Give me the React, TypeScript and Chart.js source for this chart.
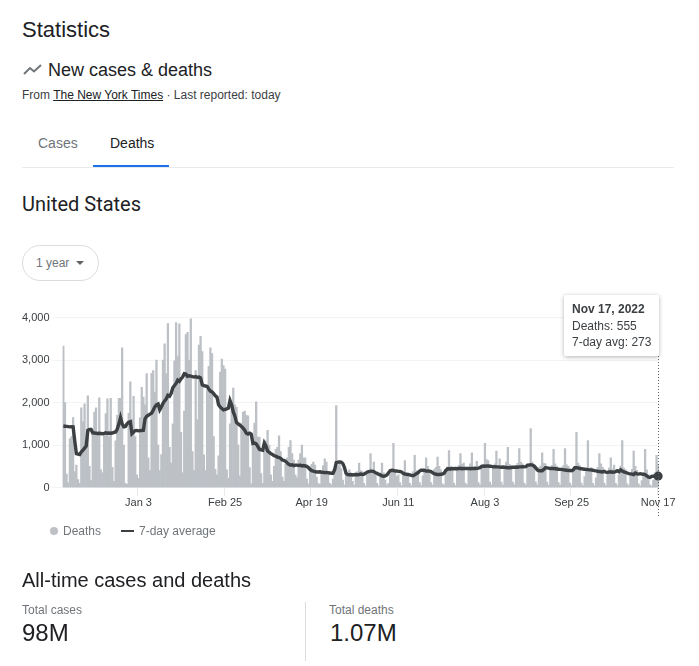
import React, { useEffect, useRef } from "react";
import { Chart, registerables } from "chart.js";

Chart.register(...registerables);

const deaths = [
  3330,2000,320,120,1150,1200,1650,380,530,190,
  100,1880,1550,1970,1100,2160,500,170,1300,1780,
  1880,1300,2110,420,350,1300,1740,2090,1200,2100,
  480,150,1100,1700,2100,2100,3290,1000,100,80,
  1750,2490,1600,2150,1200,300,220,1650,2360,2130,
  1950,2680,700,400,2690,2750,2250,3000,1000,400,
  780,3000,3380,2680,3860,950,580,1500,2980,3880,
  3080,3850,1300,350,1800,3600,3650,3000,3970,850,
  400,2750,1600,3350,3560,3200,770,400,2300,2850,
  3290,3150,1200,430,300,750,2720,3020,2870,2790,
  420,220,1500,1900,2340,1950,1890,1000,280,1520,
  1780,1800,1700,1690,470,90,1000,1520,2020,1190,
  1190,330,100,1000,1100,1350,1000,300,150,500,
  900,950,1220,850,250,150,550,700,950,1110,
  800,650,300,240,650,800,1000,700,700,200,
  90,500,550,600,530,250,100,80,400,520,
  680,600,300,100,70,200,380,1930,500,620,
  450,180,60,300,330,420,320,150,60,350,
  380,580,400,380,100,40,300,400,800,400,
  600,300,100,40,350,580,350,180,60,100,
  320,420,1040,400,260,300,120,50,340,640,
  300,290,100,50,380,760,400,330,120,50,
  280,450,700,500,420,120,60,430,480,720,
  500,420,90,60,420,490,870,500,470,110,
  50,450,520,800,550,580,110,70,420,560,
  820,440,500,620,120,70,450,530,1040,660,
  640,130,70,470,560,860,480,680,130,60,
  500,600,950,550,520,130,70,500,570,920,
  600,560,110,60,480,560,1390,600,520,140,
  70,470,510,820,570,560,130,60,440,520,
  900,560,500,120,60,460,520,920,540,500,
  110,50,430,500,1300,580,520,110,50,260,
  400,1110,430,470,100,50,230,480,800,560,
  480,110,50,340,460,700,440,530,100,50,
  300,510,1110,460,420,90,50,290,430,860,
  500,410,90,40,170,350,900,420,300,70,
  40,180,350,760,555,
];

const sevenDayAvg = [
  1450,1445,1440,1435,1430,1432,1430,1100,800,790,
  780,840,880,930,980,1350,1370,1370,1290,1285,
  1280,1275,1280,1275,1270,1275,1290,1280,1285,1280,
  1285,1300,1310,1380,1500,1650,1500,1430,1440,1500,
  1540,1550,1270,1310,1340,1345,1335,1340,1345,1350,
  1620,1680,1700,1730,1750,1820,1900,1950,1970,1830,
  1900,1980,2040,2090,2170,2150,2220,2350,2400,2450,
  2530,2500,2560,2600,2680,2670,2620,2630,2620,2610,
  2600,2610,2590,2600,2580,2420,2400,2390,2380,2320,
  2270,2250,2210,2160,2130,1950,1900,1860,1830,1840,
  1850,1870,2050,1950,1780,1680,1530,1500,1470,1440,
  1400,1350,1280,1260,1280,1260,1040,1050,1030,970,
  900,890,880,1050,980,860,830,800,780,750,
  740,720,710,690,650,640,620,580,550,530,
  540,520,530,530,520,530,510,520,510,500,
  470,430,400,390,380,370,370,375,360,365,
  350,360,350,345,340,340,420,590,600,605,
  600,570,480,340,310,305,310,300,305,310,
  305,310,320,310,320,340,370,380,390,390,
  380,350,340,310,300,280,270,280,300,350,
  400,410,405,390,395,385,380,370,340,320,
  315,310,300,290,280,300,330,350,390,410,
  410,405,390,395,390,380,350,330,315,310,
  310,315,320,340,400,440,445,440,450,445,
  450,445,450,455,445,450,450,455,450,445,
  450,455,450,455,460,470,500,510,505,510,
  510,505,500,490,495,490,490,485,480,485,
  480,475,470,470,475,480,480,485,480,490,
  490,495,490,495,530,530,540,530,510,470,
  420,400,400,400,430,470,465,460,450,455,
  450,445,440,435,430,430,420,415,410,405,
  405,400,420,470,470,465,450,445,440,435,
  430,425,420,420,410,400,395,385,380,375,
  370,385,365,360,370,375,365,370,380,400,
  375,420,390,370,360,345,330,325,320,310,
  345,325,320,330,320,315,310,280,250,240,
  265,270,275,280,273,
];

const tickLabels: Record<number, string> = {
  46: "Jan 3",
  99: "Feb 25",
  152: "Apr 19",
  205: "Jun 11",
  258: "Aug 3",
  311: "Sep 25",
  364: "Nov 17",
};
const categories = deaths.map((_, i) => tickLabels[i] ?? "");
const tooltipDate = "Nov 17, 2022";

const FONT = "'Liberation Sans', Arial, sans-serif";
const HEAD = "Roboto, Arial, sans-serif";
const DARK = "#3c4043";
const GREY = "#70757a";
const BAR = "#bdc1c6";
const GRID = "#f1f3f4";

const hoverLine = {
  id: "hoverLine",
  afterDraw(chart: any) {
    const x = chart.scales.x.getPixelForValue(deaths.length - 1);
    const ctx = chart.ctx;
    ctx.save();
    ctx.strokeStyle = "#5f6368";
    ctx.lineWidth = 1;
    ctx.setLineDash([1, 2]);
    ctx.beginPath();
    ctx.moveTo(Math.round(x) + 0.5, 56);
    ctx.lineTo(Math.round(x) + 0.5, 216);
    ctx.stroke();
    ctx.restore();
  },
};

function T({ x, y, size, color, children, weight, font }: any) {
  return (
    <div
      style={{
        position: "absolute",
        left: x,
        top: y,
        fontSize: size,
        fontFamily: font ?? FONT,
        lineHeight: "20px",
        height: 20,
        color,
        fontWeight: weight ?? 400,
        whiteSpace: "nowrap",
      }}
    >
      {children}
    </div>
  );
}

export default function App() {
  const ref = useRef<HTMLCanvasElement>(null);
  useEffect(() => {
    const chart = new Chart(ref.current!, {
      type: "bar",
      data: {
        labels: categories,
        datasets: [
          {
            type: "line",
            label: "7-day average",
            data: sevenDayAvg,
            borderColor: DARK,
            backgroundColor: DARK,
            borderWidth: 3.4,
            tension: 0,
            clip: false,
            pointRadius: (c: any) => (c.dataIndex === sevenDayAvg.length - 1 ? 4.5 : 0),
            pointBackgroundColor: DARK,
            pointBorderWidth: 0,
            order: 0,
          },
          {
            type: "bar",
            label: "Deaths",
            data: deaths,
            backgroundColor: BAR,
            barPercentage: 1,
            categoryPercentage: 1,
            order: 1,
          },
        ],
      } as any,
      options: {
        animation: false,
        responsive: false,
        maintainAspectRatio: false,
        layout: { padding: { top: 17.5, right: 40, left: 0, bottom: 0 } },
        plugins: { legend: { display: false }, tooltip: { enabled: false } },
        scales: {
          x: {
            offset: true,
            border: { display: false },
            grid: {
              drawOnChartArea: false,
              drawTicks: true,
              tickLength: 8,
              tickColor: (c: any) => (tickLabels[c.index] ? "#e8eaed" : "transparent"),
            } as any,
            ticks: {
              autoSkip: false,
              maxRotation: 0,
              minRotation: 0,
              padding: 1,
              color: DARK,
              font: { family: FONT, size: 11 },
              callback: (_: any, i: number) => tickLabels[i] ?? "",
            },
            afterFit: (s: any) => {
              s.height = 42.3;
            },
          },
          y: {
            min: 0,
            max: 4000,
            border: { display: false },
            grid: { color: GRID, tickColor: GRID, tickLength: 10 },
            ticks: {
              stepSize: 1000,
              padding: 3,
              color: DARK,
              font: { family: FONT, size: 11 },
              callback: (v: any) => Number(v).toLocaleString("en-US"),
            },
            afterFit: (s: any) => {
              s.width = 62.5;
            },
          },
        },
      } as any,
      plugins: [hoverLine],
    });
    return () => chart.destroy();
  }, []);

  return (
    <div style={{ position: "absolute", left: 0, top: 0, width: 699, height: 666, background: "#fff", fontFamily: FONT, overflow: "hidden" }}>
      <T x={22} y={20} size={22} color="#202124">Statistics</T>
      <svg style={{ position: "absolute", left: 22, top: 62 }} width={20} height={16}>
        <polyline points="2,12 8,6 12,9.5 19,3" fill="none" stroke={GREY} strokeWidth={2} />
      </svg>
      <T x={48} y={60} size={18} color="#202124">New cases &amp; deaths</T>
      <T x={22} y={85} size={12} color={DARK}>
        From <span style={{ textDecoration: "underline", color: "#202124" }}>The New York Times</span> · Last reported: today
      </T>
      <T x={38} y={133} size={14} color={GREY}>Cases</T>
      <T x={110} y={133} size={14} color="#202124">Deaths</T>
      <div style={{ position: "absolute", left: 22, top: 167, width: 652, height: 1, background: "#e8eaed" }} />
      <div style={{ position: "absolute", left: 93, top: 165, width: 76, height: 2, background: "#1a73e8" }} />
      <T x={22} y={194} size={20} color="#202124" font={HEAD}>United States</T>
      <div style={{ position: "absolute", left: 22, top: 245, width: 75, height: 34, border: "1px solid #dadce0", borderRadius: 18 }} />
      <T x={36} y={253} size={12} color={GREY}>1 year</T>
      <div style={{ position: "absolute", left: 76, top: 261, width: 0, height: 0, borderLeft: "4px solid transparent", borderRight: "4px solid transparent", borderTop: "4px solid #5f6368" }} />

      <canvas ref={ref} width={699} height={230} style={{ position: "absolute", left: 0, top: 300, width: 699, height: 230 }} />

      <div style={{ position: "absolute", left: 564, top: 295, width: 95, height: 61, background: "#fff", borderRadius: 2, boxShadow: "0 1px 4px rgba(60,64,67,0.4)", fontSize: 12, color: DARK, lineHeight: "16px" }}>
        <div style={{ position: "absolute", left: 8, top: 6, fontWeight: 700, whiteSpace: "nowrap" }}>{tooltipDate}</div>
        <div style={{ position: "absolute", left: 8, top: 23, whiteSpace: "nowrap" }}>Deaths: {deaths[deaths.length - 1]}</div>
        <div style={{ position: "absolute", left: 8, top: 39, whiteSpace: "nowrap" }}>7-day avg: {sevenDayAvg[sevenDayAvg.length - 1]}</div>
      </div>

      <div style={{ position: "absolute", left: 50, top: 527, width: 8, height: 8, borderRadius: 4, background: BAR }} />
      <T x={63} y={521} size={12} color={GREY}>Deaths</T>
      <div style={{ position: "absolute", left: 121, top: 530, width: 13, height: 2, background: DARK }} />
      <T x={139} y={521} size={12} color={GREY}>7-day average</T>

      <T x={22} y={570} size={20} color="#202124">All-time cases and deaths</T>
      <T x={22} y={600} size={12} color={GREY}>Total cases</T>
      <T x={22} y={623} size={24} color="#202124">98M</T>
      <div style={{ position: "absolute", left: 305, top: 602, width: 1, height: 59, background: "#dadce0" }} />
      <T x={329} y={600} size={12} color={GREY}>Total deaths</T>
      <T x={330} y={623} size={24} color="#202124">1.07M</T>
    </div>
  );
}
